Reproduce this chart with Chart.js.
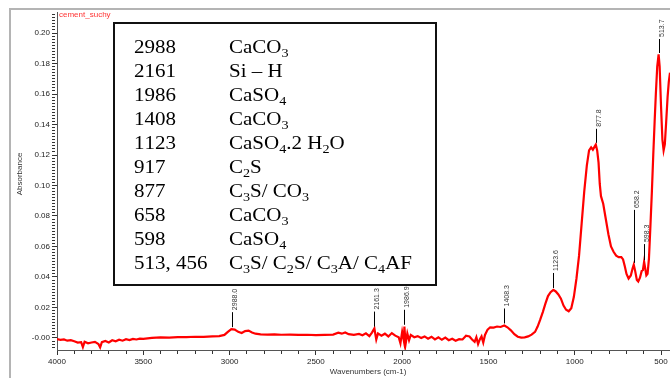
<!DOCTYPE html>
<html>
<head>
<meta charset="utf-8">
<script src="https://cdn.jsdelivr.net/npm/chart.js@4.4.0/dist/chart.umd.min.js"></script>
<style>
html, body { margin: 0; padding: 0; background: #fff; }
#wrap { width: 670px; height: 378px; }
</style>
</head>
<body>
<div id="wrap"><canvas id="myChart" width="670" height="378"></canvas></div>
<script>
// spectrum (cm-1 / absorbance)
const wavenumbers = [
  4000, 3980, 3960, 3940, 3920, 3900, 3880, 3860, 3850, 3840, 3820, 3800, 3780, 3760, 3750, 3740,
  3720, 3700, 3680, 3660, 3640, 3620, 3600, 3580, 3560, 3540, 3520, 3500, 3450, 3400, 3350, 3300,
  3250, 3200, 3150, 3100, 3060, 3030, 3010, 2990, 2970, 2950, 2930, 2910, 2890, 2870, 2850, 2820,
  2780, 2740, 2700, 2650, 2600, 2550, 2500, 2450, 2400, 2370, 2350, 2330, 2310, 2280, 2250, 2230,
  2210, 2190, 2175, 2161, 2150, 2140, 2120, 2100, 2080, 2060, 2040, 2020, 2010, 2000, 1990, 1987,
  1980, 1970, 1960, 1950, 1930, 1910, 1890, 1870, 1850, 1830, 1810, 1790, 1770, 1750, 1730, 1710,
  1690, 1670, 1650, 1630, 1610, 1595, 1580, 1570, 1560, 1550, 1540, 1530, 1520, 1505, 1490, 1470,
  1450, 1430, 1408, 1390, 1370, 1350, 1330, 1310, 1290, 1270, 1250, 1230, 1215, 1200, 1185, 1170,
  1155, 1140, 1124, 1110, 1095, 1080, 1065, 1050, 1035, 1020, 1005, 990, 975, 960, 945, 930,
  917, 905, 895, 885, 878, 870, 862, 855, 848, 835, 820, 805, 790, 775, 760, 745,
  730, 720, 710, 700, 688, 675, 665, 658, 650, 640, 632, 622, 612, 605, 598, 592,
  585, 578, 570, 562, 553, 545, 537, 530, 522, 514, 508, 500, 492, 485, 478, 470,
  462, 455, 448
];
const absorbance = [
  -0.0008, -0.0012, -0.0010, -0.0018, -0.0015, -0.0022, -0.0030, -0.0028, -0.0060, -0.0025, -0.0035, -0.0030, -0.0026, -0.0040, -0.0062, -0.0028,
  -0.0020, -0.0030, -0.0015, -0.0022, -0.0012, -0.0018, -0.0008, -0.0014, -0.0006, -0.0010, -0.0004, -0.0006, 0.0000, 0.0004, 0.0002, 0.0006,
  0.0005, 0.0008, 0.0007, 0.0010, 0.0012, 0.0020, 0.0040, 0.0058, 0.0055, 0.0040, 0.0032, 0.0045, 0.0048, 0.0036, 0.0028, 0.0024,
  0.0022, 0.0023, 0.0021, 0.0022, 0.0020, 0.0021, 0.0019, 0.0020, 0.0022, 0.0034, 0.0028, 0.0036, 0.0025, 0.0020, 0.0026, 0.0018,
  0.0030, 0.0012, 0.0035, 0.0062, -0.0010, 0.0030, 0.0015, 0.0028, 0.0010, 0.0032, 0.0015, 0.0005, -0.0035, 0.0040, -0.0020, 0.0075,
  -0.0040, 0.0030, -0.0015, 0.0020, 0.0005, 0.0012, 0.0000, 0.0010, -0.0005, 0.0008, -0.0010, 0.0004, -0.0012, 0.0002, -0.0015, -0.0005,
  -0.0018, -0.0008, -0.0010, 0.0015, 0.0010, -0.0010, -0.0025, 0.0005, -0.0040, -0.0010, 0.0010, -0.0030, 0.0020, 0.0055, 0.0070, 0.0068,
  0.0075, 0.0072, 0.0082, 0.0070, 0.0050, 0.0025, 0.0008, 0.0002, 0.0004, 0.0010, 0.0022, 0.0040, 0.0075, 0.0120, 0.0170, 0.0225,
  0.0275, 0.0300, 0.0315, 0.0305, 0.0285, 0.0258, 0.0212, 0.0185, 0.0175, 0.0195, 0.0270, 0.0390, 0.0540, 0.0750, 0.0960, 0.1130,
  0.1230, 0.1250, 0.1235, 0.1255, 0.1268, 0.1230, 0.1150, 0.1010, 0.0930, 0.0880, 0.0780, 0.0680, 0.0600, 0.0565, 0.0540, 0.0530,
  0.0530, 0.0515, 0.0470, 0.0420, 0.0390, 0.0410, 0.0455, 0.0480, 0.0440, 0.0380, 0.0370, 0.0395, 0.0440, 0.0445, 0.0500, 0.0460,
  0.0410, 0.0420, 0.0520, 0.0720, 0.0960, 0.1200, 0.1420, 0.1600, 0.1780, 0.1860, 0.1780, 0.1520, 0.1300, 0.1230, 0.1270, 0.1420,
  0.1580, 0.1680, 0.1740
];

const xTickValues = [4000, 3500, 3000, 2500, 2000, 1500, 1000, 500];
const xTickLabels = ['4000', '3500', '3000', '2500', '2000', '1500', '1000', '500'];
const yTickValues = [0, 0.02, 0.04, 0.06, 0.08, 0.10, 0.12, 0.14, 0.16, 0.18, 0.20];
const yTickLabels = ['-0.00', '0.02', '0.04', '0.06', '0.08', '0.10', '0.12', '0.14', '0.16', '0.18', '0.20'];

const peakWavenumbers = [2988.0, 2161.3, 1986.9, 1408.3, 1123.6, 877.8, 658.2, 598.3, 513.7];
const peakLabels = ['2988.0', '2161.3', '1986.9', '1408.3', '1123.6', '877.8', '658.2', '598.3', '513.7'];

// table in the box, "_" marks a one-character subscript
const bandNumbers = ['2988', '2161', '1986', '1408', '1123', '917', '877', '658', '598', '513, 456'];
const bandAssignments = ['CaCO_3', 'Si \u2013 H', 'CaSO_4', 'CaCO_3', 'CaSO_4.2 H_2O', 'C_2S', 'C_3S/ CO_3',
  'CaCO_3', 'CaSO_4', 'C_3S/ C_2S/ C_3A/ C_4AF'];

const sampleName = 'cement_suchy';
const xTitle = 'Wavenumbers (cm-1)';
const yTitle = 'Absorbance';

const sans = '"Liberation Sans", Arial, sans-serif';
const serif = '"Liberation Serif", "Times New Roman", serif';
const stretch = 1.135; // the box text is a little wider than plain Times

function absorbanceAt(w) {
  for (let i = 0; i < wavenumbers.length - 1; i++) {
    const a = wavenumbers[i], b = wavenumbers[i + 1];
    if (w <= a && w >= b) {
      const t = (a - w) / (a - b);
      return absorbance[i] + t * (absorbance[i + 1] - absorbance[i]);
    }
  }
  return 0;
}

function drawFormula(ctx, str, x, y) {
  ctx.save();
  ctx.translate(x, y);
  ctx.scale(stretch, 1);
  let cx = 0;
  for (let i = 0; i < str.length; i++) {
    if (str[i] === '_' && i + 1 < str.length) {
      ctx.font = '12.5px ' + serif;
      ctx.fillText(str[i + 1], cx, 4);
      cx += ctx.measureText(str[i + 1]).width;
      i++;
    } else {
      ctx.font = '18.5px ' + serif;
      ctx.fillText(str[i], cx, 0);
      cx += ctx.measureText(str[i]).width;
    }
  }
  ctx.restore();
}

const decorations = {
  id: 'decorations',
  afterDraw(chart) {
    const ctx = chart.ctx;
    const xs = chart.scales.x, ys = chart.scales.y;
    ctx.save();

    // grey outer frame
    ctx.strokeStyle = '#b4b4b4';
    ctx.lineWidth = 2;
    ctx.beginPath();
    ctx.moveTo(10, 378);
    ctx.lineTo(10, 9);
    ctx.lineTo(670, 9);
    ctx.stroke();

    // sample name
    ctx.fillStyle = '#ff3333';
    ctx.font = '8px ' + sans;
    ctx.textAlign = 'left';
    ctx.textBaseline = 'middle';
    ctx.fillText(sampleName, 59, 15);

    // axis titles
    ctx.fillStyle = '#333';
    ctx.font = '8px ' + sans;
    ctx.textAlign = 'center';
    ctx.fillText(xTitle, 368, 372);
    ctx.save();
    ctx.translate(20, 174);
    ctx.rotate(-Math.PI / 2);
    ctx.fillText(yTitle, 0, 0);
    ctx.restore();

    // peak markers
    const leader = [15, 15, 15, 15, 15, 14, 53, 16, 14];
    ctx.strokeStyle = '#000';
    ctx.lineWidth = 1;
    ctx.font = '7px ' + sans;
    ctx.fillStyle = '#333';
    peakWavenumbers.forEach((w, i) => {
      const px = Math.round(xs.getPixelForValue(w)) + 0.5;
      const py = ys.getPixelForValue(absorbanceAt(w)) - 2;
      ctx.beginPath();
      ctx.moveTo(px, py);
      ctx.lineTo(px, py - leader[i]);
      ctx.stroke();
      ctx.save();
      ctx.translate(px + 3, py - leader[i] - 2);
      ctx.rotate(-Math.PI / 2);
      ctx.textAlign = 'left';
      ctx.textBaseline = 'middle';
      ctx.fillText(peakLabels[i], 0, 0);
      ctx.restore();
    });

    // band table box
    ctx.fillStyle = '#fff';
    ctx.fillRect(114, 23, 322, 262);
    ctx.strokeStyle = '#111';
    ctx.lineWidth = 2;
    ctx.strokeRect(114, 23, 322, 262);
    ctx.fillStyle = '#000';
    ctx.textAlign = 'left';
    ctx.textBaseline = 'alphabetic';
    bandNumbers.forEach((n, i) => {
      const by = 53 + i * 24;
      drawFormula(ctx, n, 134, by);
      drawFormula(ctx, bandAssignments[i], 229, by);
    });

    ctx.restore();
  }
};

const ctx = document.getElementById('myChart').getContext('2d');
new Chart(ctx, {
  type: 'line',
  data: {
    datasets: [{
      data: wavenumbers.map((w, i) => ({ x: w, y: absorbance[i] })),
      borderColor: '#ff0000',
      borderWidth: 2.2,
      pointRadius: 0,
      tension: 0,
      fill: false
    }]
  },
  options: {
    responsive: false,
    animation: false,
    devicePixelRatio: 1,
    layout: { padding: { top: 12, right: 0, left: 0, bottom: 0 } },
    plugins: { legend: { display: false }, tooltip: { enabled: false } },
    scales: {
      x: {
        type: 'linear',
        reverse: true,
        min: 448,
        max: 4000,
        afterBuildTicks: scale => {
          const t = [];
          for (let v = 4000; v >= 500; v -= 100) t.push({ value: v });
          scale.ticks = t;
        },
        afterFit: scale => { scale.height = 28; },
        ticks: {
          autoSkip: false,
          maxRotation: 0,
          padding: 2,
          color: '#222',
          font: { family: sans, size: 8 },
          callback: v => {
            const i = xTickValues.indexOf(v);
            return i >= 0 ? xTickLabels[i] : '';
          }
        },
        grid: {
          drawOnChartArea: false,
          tickLength: 5,
          tickColor: '#333',
          tickBorderDash: c => (c.tick && c.tick.value % 500 === 0) ? [] : [3, 20]
        },
        border: { display: true, color: '#555', width: 1 }
      },
      y: {
        min: -0.0079,
        max: 0.2138,
        afterBuildTicks: scale => {
          const t = [];
          for (let k = -3; k <= 106; k++) t.push({ value: k / 500 });
          scale.ticks = t;
        },
        afterFit: scale => { scale.width = 57; },
        ticks: {
          autoSkip: false,
          padding: 2,
          color: '#222',
          font: { family: sans, size: 8 },
          callback: v => {
            const i = yTickValues.findIndex(t => Math.abs(t - v) < 1e-9);
            return i >= 0 ? yTickLabels[i] : '';
          }
        },
        grid: {
          drawOnChartArea: false,
          tickLength: 5,
          tickColor: '#333',
          tickBorderDash: c => (c.tick && Math.round(c.tick.value * 500) % 10 === 0) ? [] : [3, 20]
        },
        border: { display: true, color: '#555', width: 1 }
      }
    }
  },
  plugins: [decorations]
});
</script>
</body>
</html>
